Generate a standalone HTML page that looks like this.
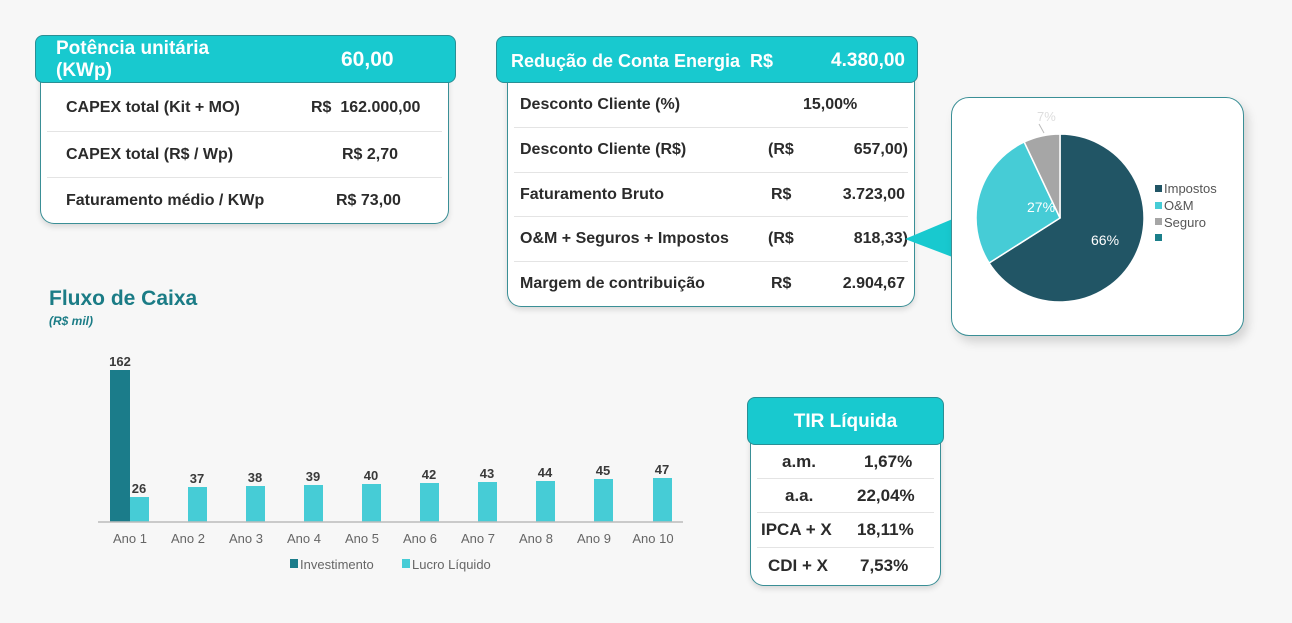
<!DOCTYPE html>
<html><head><meta charset="utf-8"><style>
body{margin:0;width:1292px;height:623px;background:#f7f7f7;position:relative;overflow:hidden;font-family:"Liberation Sans",sans-serif;color:#2b2b2b}
.abs{position:absolute}
.hdr{position:absolute;background:#18c9cf;border:1px solid #2a8f95;border-radius:8px;color:#fff;font-weight:bold;box-sizing:border-box;z-index:2}
.body{position:absolute;background:#fff;border:1.5px solid #3a8f96;border-top:none;border-radius:0 0 14px 14px;box-sizing:border-box;box-shadow:0 3px 6px rgba(0,0,0,.12)}
.row{position:absolute;left:6px;right:6px;border-bottom:1px solid #e4e4e4;font-weight:bold;font-size:16px}
.row span{position:absolute}
</style></head><body>

<!-- Table 1 -->
<div class="body" style="left:40px;top:70px;width:409px;height:154px">
  <div class="row" style="top:12px;height:49px"><span style="left:19px;top:17px">CAPEX total (Kit + MO)</span><span style="left:264px;top:17px">R$&nbsp;&nbsp;162.000,00</span></div>
  <div class="row" style="top:61px;height:46px"><span style="left:19px;top:15px">CAPEX total (R$ / Wp)</span><span style="left:295px;top:15px">R$ 2,70</span></div>
  <div class="row" style="top:107px;height:46px;border:none"><span style="left:19px;top:15px">Faturamento médio / KWp</span><span style="left:289px;top:15px">R$ 73,00</span></div>
</div>
<div class="hdr" style="left:35px;top:35px;width:421px;height:48px">
  <div class="abs" style="left:20px;top:2px;font-size:19px;line-height:22px">Potência unitária<br>(KWp)</div>
  <div class="abs" style="left:305px;top:12px;font-size:21px">60,00</div>
</div>

<!-- Table 2 -->
<div class="body" style="left:507px;top:70px;width:408px;height:237px">
  <div class="row" style="top:12px;height:45px"><span style="left:6px;top:14px">Desconto Cliente (%)</span><span style="left:289px;top:14px">15,00%</span></div>
  <div class="row" style="top:57px;height:45px"><span style="left:6px;top:14px">Desconto Cliente (R$)</span><span style="left:254px;top:14px">(R$</span><span style="right:0;top:14px">657,00)</span></div>
  <div class="row" style="top:102px;height:44px"><span style="left:6px;top:14px">Faturamento Bruto</span><span style="left:257px;top:14px">R$</span><span style="right:3px;top:14px">3.723,00</span></div>
  <div class="row" style="top:146px;height:45px"><span style="left:6px;top:14px">O&amp;M + Seguros + Impostos</span><span style="left:254px;top:14px">(R$</span><span style="right:0;top:14px">818,33)</span></div>
  <div class="row" style="top:191px;height:44px;border:none"><span style="left:6px;top:14px">Margem de contribuição</span><span style="left:257px;top:14px">R$</span><span style="right:3px;top:14px">2.904,67</span></div>
</div>
<div class="hdr" style="left:496px;top:36px;width:422px;height:47px">
  <div class="abs" style="left:14px;top:14px;font-size:18px">Redução de Conta Energia&nbsp;&nbsp;R$</div>
  <div class="abs" style="right:12px;top:13px;font-size:19px">4.380,00</div>
</div>

<!-- pointer -->
<svg class="abs" style="left:900px;top:210px" width="60" height="60"><polygon points="5,29 55,8 55,48" fill="#18c9cf"/></svg>

<!-- Pie box -->
<div class="abs" style="left:951px;top:97px;width:293px;height:239px;background:#fff;border:1.5px solid #3a8f96;border-radius:18px;box-sizing:border-box;box-shadow:4px 6px 10px rgba(0,0,0,.15)"></div>
<svg class="abs" style="left:951px;top:97px" width="293" height="239">
  <g transform="translate(109,121)" stroke="#fff" stroke-width="1.5">
    <path d="M0,0 L0,-84 A84,84 0 1,1 -70.9,45.0 Z" fill="#215565"/>
    <path d="M0,0 L-70.9,45.0 A84,84 0 0,1 -35.8,-76.0 Z" fill="#46ccd6"/>
    <path d="M0,0 L-35.8,-76.0 A84,84 0 0,1 0,-84 Z" fill="#a6a6a6"/>
  </g>
  <line x1="88" y1="27" x2="93" y2="36" stroke="#bbb"/>
  <text x="86" y="24" font-size="13" fill="#ddd">7%</text>
  <text x="76" y="115" font-size="14" fill="#fff">27%</text>
  <text x="140" y="148" font-size="14" fill="#fff">66%</text>
  <g font-size="13" fill="#555">
    <rect x="204" y="88" width="7" height="7" fill="#215565"/><text x="213" y="96">Impostos</text>
    <rect x="204" y="105" width="7" height="7" fill="#46ccd6"/><text x="213" y="113">O&amp;M</text>
    <rect x="204" y="121" width="7" height="7" fill="#a6a6a6"/><text x="213" y="130">Seguro</text>
    <rect x="204" y="137" width="7" height="7" fill="#1b7f8a"/>
  </g>
</svg>

<!-- Fluxo de Caixa -->
<div class="abs" style="left:49px;top:287px;font-size:21px;font-weight:bold;color:#1b7c86">Fluxo de Caixa</div>
<div class="abs" style="left:49px;top:314px;font-size:12px;font-weight:bold;font-style:italic;color:#1b7c86">(R$ mil)</div>
<svg class="abs" style="left:0;top:0" width="700" height="623">
  <g font-size="13" font-weight="bold" fill="#3a3a3a" text-anchor="middle">
    <rect x="110" y="370" width="20" height="152" fill="#1b7c8a"/><text x="120" y="366">162</text>
    <rect x="130" y="497" width="19" height="25" fill="#46ccd6"/><text x="139" y="493">26</text>
    <rect x="188" y="487" width="19" height="35" fill="#46ccd6"/><text x="197" y="483">37</text>
    <rect x="246" y="486" width="19" height="36" fill="#46ccd6"/><text x="255" y="482">38</text>
    <rect x="304" y="485" width="19" height="37" fill="#46ccd6"/><text x="313" y="481">39</text>
    <rect x="362" y="484" width="19" height="38" fill="#46ccd6"/><text x="371" y="480">40</text>
    <rect x="420" y="483" width="19" height="39" fill="#46ccd6"/><text x="429" y="479">42</text>
    <rect x="478" y="482" width="19" height="40" fill="#46ccd6"/><text x="487" y="478">43</text>
    <rect x="536" y="481" width="19" height="41" fill="#46ccd6"/><text x="545" y="477">44</text>
    <rect x="594" y="479" width="19" height="43" fill="#46ccd6"/><text x="603" y="475">45</text>
    <rect x="653" y="478" width="19" height="44" fill="#46ccd6"/><text x="662" y="474">47</text>
  </g>
  <line x1="98" y1="522" x2="683" y2="522" stroke="#bbb" stroke-width="1.5"/>
  <g font-size="13" fill="#666" text-anchor="middle">
    <text x="130" y="543">Ano 1</text><text x="188" y="543">Ano 2</text><text x="246" y="543">Ano 3</text><text x="304" y="543">Ano 4</text><text x="362" y="543">Ano 5</text><text x="420" y="543">Ano 6</text><text x="478" y="543">Ano 7</text><text x="536" y="543">Ano 8</text><text x="594" y="543">Ano 9</text><text x="653" y="543">Ano 10</text>
  </g>
  <rect x="290" y="559" width="8" height="9" fill="#1b7c8a"/>
  <text x="300" y="569" font-size="13" fill="#666">Investimento</text>
  <rect x="402" y="559" width="8" height="9" fill="#46ccd6"/>
  <text x="412" y="569" font-size="13" fill="#666">Lucro Líquido</text>
</svg>

<!-- TIR -->
<div class="body" style="left:750px;top:430px;width:191px;height:156px">
  <div class="row" style="top:14px;height:34px;font-size:17px"><span style="left:25px;top:8px">a.m.</span><span style="left:107px;top:8px">1,67%</span></div>
  <div class="row" style="top:48px;height:34px;font-size:17px"><span style="left:28px;top:8px">a.a.</span><span style="left:100px;top:8px">22,04%</span></div>
  <div class="row" style="top:82px;height:35px;font-size:17px"><span style="left:4px;top:8px">IPCA + X</span><span style="left:100px;top:8px">18,11%</span></div>
  <div class="row" style="top:117px;height:36px;font-size:17px;border:none"><span style="left:11px;top:9px">CDI + X</span><span style="left:103px;top:9px">7,53%</span></div>
</div>
<div class="hdr" style="left:747px;top:397px;width:197px;height:48px">
  <div class="abs" style="left:0;right:0;top:13px;text-align:center;font-size:19px">TIR Líquida</div>
</div>
</body></html>
